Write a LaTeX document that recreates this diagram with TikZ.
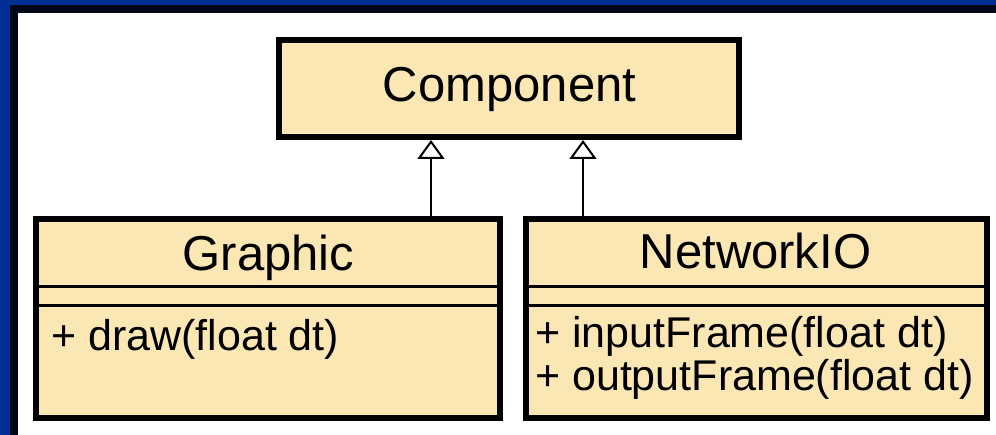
\documentclass[tikz,border=0pt]{standalone}
\usepackage{fontspec}
\setmainfont{Liberation Sans}
\usetikzlibrary{arrows.meta}
\definecolor{umlfill}{RGB}{250,231,180}
\definecolor{frameblue}{RGB}{0,48,150}
\definecolor{framedark}{RGB}{0,8,24}
\tikzset{
  umlbox/.style={draw=black, fill=umlfill, line width=6pt, inner sep=0pt},
  sepline/.style={draw=black, line width=3pt},
  classname/.style={inner sep=0pt, anchor=base, font=\fontsize{49pt}{53pt}\selectfont},
  method/.style={inner sep=0pt, anchor=base west, font=\fontsize{43pt}{45pt}\selectfont},
  inherit/.style={draw=black, line width=2pt, -{Triangle[width=27pt,length=19pt,fill=white,line width=2pt]}}
}
\begin{document}
\begin{tikzpicture}[x=1pt,y=-1pt]
  \useasboundingbox (0,0) rectangle (996,435);
  % frame
  \fill[white] (0,0) rectangle (996,435);
  \fill[frameblue] (0,0) rectangle (10,435);
  \fill[frameblue] (0,0) rectangle (996,5);
  \fill[framedark] (10,5) rectangle (18,435);
  \fill[framedark] (10,5) rectangle (996,13);
  % boxes
  \node[umlbox, minimum width=460pt, minimum height=97pt] (comp) at (509,88.5) {};
  \node[umlbox, minimum width=463.5pt, minimum height=199pt] (graphic) at (267.75,318.5) {};
  \node[umlbox, minimum width=461.5pt, minimum height=199pt] (netio) at (756.25,318.5) {};
  % compartment separators
  \coordinate (s1) at (0,286.5);
  \coordinate (s2) at (0,305.5);
  \draw[sepline] (graphic.west |- s1) -- (graphic.east |- s1);
  \draw[sepline] (graphic.west |- s2) -- (graphic.east |- s2);
  \draw[sepline] (netio.west |- s1) -- (netio.east |- s1);
  \draw[sepline] (netio.west |- s2) -- (netio.east |- s2);
  % texts
  \node[classname] (tcomp) at (509.5,102) {Component};
  \node[classname] (tgraphic) at (268.5,271) {Graphic};
  \node[classname] (tnetio) at (755.5,269) {NetworkIO};
  \node[method] (mdraw) at (51,351) {+ draw(float dt)};
  \node[method] (min) at (535,348) {+ inputFrame(float dt)};
  \node[method] (mout) at (535,391) {+ outputFrame(float dt)};
  % inheritance
  \coordinate (ga) at (431,0);
  \coordinate (na) at (583,0);
  \draw[inherit] (graphic.north -| ga) -- (comp.south -| ga);
  \draw[inherit] (netio.north -| na) -- (comp.south -| na);
\end{tikzpicture}
\end{document}
